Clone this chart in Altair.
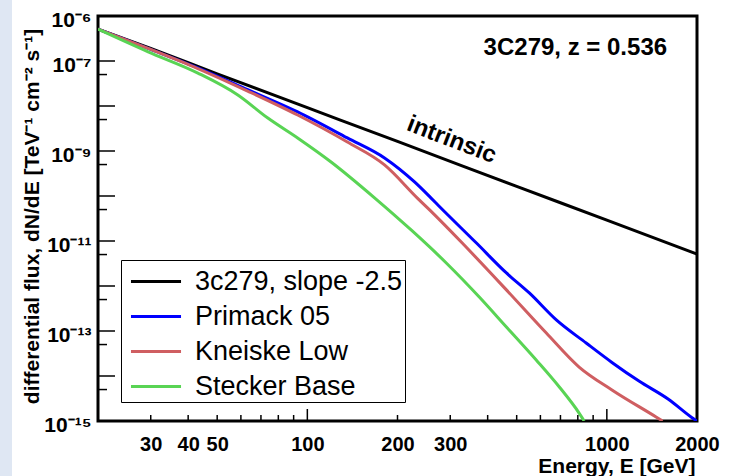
import altair as alt
import pandas as pd

# ---------------- data ----------------
series_names = ["3c279, slope -2.5", "Primack 05", "Kneiske Low", "Stecker Base"]
series_colors = ["#000000", "#0000ff", "#cf5e61", "#59d454"]

intrinsic_E = [20, 30, 50, 100, 200, 500, 1000, 2000]
intrinsic_F = [5.1e-7, 1.9e-7, 5.2e-8, 9.2e-9, 1.63e-9, 1.64e-10, 2.9e-11, 5.1e-12]

primack_E = [20, 29.4, 43.1, 63.2, 92.8, 136, 181, 228, 258, 276, 367, 462, 551,
             678, 853, 1040, 1280, 1610, 1920, 2000]
primack_F = [5.1e-7, 1.9e-7, 7.0e-8, 2.3e-8, 7.4e-9, 1.95e-9, 7.0e-10, 2.05e-10,
             9.2e-11, 5.85e-11, 9.0e-12, 1.95e-12, 7.0e-13, 1.76e-13, 5.4e-14,
             2.0e-14, 7.7e-15, 3.0e-15, 1.2e-15, 1.0e-15]

kneiske_E = [20, 29.4, 43.1, 63.2, 92.8, 136, 181, 233, 256, 329, 462, 628, 808,
             1040, 1460, 1535]
kneiske_F = [5.1e-7, 1.9e-7, 6.8e-8, 2.15e-8, 6.3e-9, 1.58e-9, 4.9e-10, 9.0e-11,
             4.9e-11, 9.0e-12, 8.2e-13, 9.0e-14, 1.58e-14, 4.9e-15, 1.23e-15, 1.0e-15]

stecker_E = [20, 29.4, 43.1, 58.6, 73.8, 92.8, 120, 168, 224, 291, 375, 462, 581,
             694, 808, 840]
stecker_F = [5.1e-7, 1.6e-7, 5.4e-8, 1.76e-8, 5.4e-9, 1.95e-9, 5.7e-10, 9.0e-11,
             1.67e-11, 3.25e-12, 5.7e-13, 1.23e-13, 2.27e-14, 5.7e-15, 1.5e-15, 1.0e-15]

x_label_vals = [30, 40, 50, 100, 200, 300, 1000, 2000]
x_minor_ticks = [30, 40, 50, 60, 70, 80, 90, 200, 300, 400, 500, 600, 700, 800, 900]
x_major_ticks = [100, 1000]

y_label_vals = [1e-6, 1e-7, 1e-9, 1e-11, 1e-13, 1e-15]
y_label_exps = [-6, -7, -9, -11, -13, -15]
y_label_txt = ["10⁻⁶", "10⁻⁷", "10⁻⁹", "10⁻¹¹", "10⁻¹³", "10⁻¹⁵"]
y_major_ticks = [1e-7, 1e-8, 1e-9, 1e-10, 1e-11, 1e-12, 1e-13, 1e-14]
y_minor_ticks = [5e-8, 5e-9, 5e-10, 5e-11, 5e-12, 5e-13, 5e-14, 5e-15]

ann_E = [1589, 303]
ann_F = [1.95e-7, 1.75e-9]
ann_txt = ["3C279, z = 0.536", "intrinsic"]

# ---------------- tables ----------------
rows = []
for name, Es, Fs in [(series_names[0], intrinsic_E, intrinsic_F),
                     (series_names[1], primack_E, primack_F),
                     (series_names[2], kneiske_E, kneiske_F),
                     (series_names[3], stecker_E, stecker_F)]:
    for i, (e, f) in enumerate(zip(Es, Fs)):
        rows.append({"series": name, "E": e, "F": f, "order": i})
df = pd.DataFrame(rows)

FONT = "Liberation Sans"
W, H = 599, 405

xscale = alt.Scale(type="log", domain=[20, 2000], nice=False)
yscale = alt.Scale(type="log", domain=[1e-15, 1e-6], nice=False)

label_expr = " : ".join(
    f"abs(log(datum.value)/LN10 - ({e})) < 0.01 ? '{t}'" for e, t in zip(y_label_exps, y_label_txt)
) + " : ''"

x_axis = alt.Axis(values=x_label_vals, format="d", ticks=False, domain=False, grid=False,
                  labelFont=FONT, labelFontWeight="bold", labelFontSize=20,
                  labelColor="black", labelPadding=13, labelFlush=False,
                  labelOverlap=False,
                  title="Energy, E [GeV]", titleFont=FONT, titleFontWeight="bold",
                  titleFontSize=21, titleColor="black", titleX=597, titleY=45,
                  titleAlign="right", titleBaseline="middle")
y_axis = alt.Axis(values=y_label_vals, labelExpr=label_expr, ticks=False, domain=False,
                  grid=False, labelFont=FONT, labelFontWeight="bold", labelFontSize=21,
                  labelColor="black", labelPadding=7, labelFlush=False,
                  labelOverlap=False, labelBaseline="middle", labelOffset=4,
                  title="differential flux, dN/dE [TeV⁻¹ cm⁻² s⁻¹]",
                  titleFont=FONT, titleFontWeight="bold", titleFontSize=21,
                  titleColor="black", titleAngle=270, titleX=-66, titleY=200,
                  titleAlign="center", titleBaseline="middle")

lines = alt.Chart(df).mark_line(strokeWidth=3, clip=True, interpolate="monotone").encode(
    x=alt.X("E:Q", scale=xscale, axis=x_axis),
    y=alt.Y("F:Q", scale=yscale, axis=y_axis),
    color=alt.Color("series:N", scale=alt.Scale(domain=series_names, range=series_colors),
                    legend=alt.Legend(orient="none", legendX=23, legendY=244, title=None,
                                      symbolType="M-1.43,0H1.43", symbolSize=1225,
                                      symbolStrokeWidth=3, labelFont=FONT, labelFontSize=27,
                                      labelColor="black", rowPadding=3, padding=2.5,
                                      symbolOffset=13.5, labelOffset=20, labelLimit=500,
                                      strokeColor="black", fillColor="white",
                                      cornerRadius=0)),
    order="order:Q",
)

def tick_layer(vals, channel, length):
    d = pd.DataFrame({"v": vals})
    if channel == "y":
        return alt.Chart(d).mark_rule(color="black", strokeWidth=1.5).encode(
            y=alt.Y("v:Q", scale=yscale, axis=y_axis), x=alt.value(0), x2=alt.value(length))
    return alt.Chart(d).mark_rule(color="black", strokeWidth=1.5).encode(
        x=alt.X("v:Q", scale=xscale, axis=x_axis), y=alt.value(H), y2=alt.value(H - length))

ticks = (tick_layer(y_major_ticks, "y", 17) + tick_layer(y_minor_ticks, "y", 9) +
         tick_layer(x_major_ticks, "x", 12) + tick_layer(x_minor_ticks, "x", 6))

ann = pd.DataFrame({"E": ann_E, "F": ann_F, "t": ann_txt})
title_txt = alt.Chart(ann.iloc[[0]]).mark_text(
    font=FONT, fontWeight="bold", fontSize=24, align="right", baseline="middle", color="black"
).encode(x=alt.X("E:Q", scale=xscale, axis=x_axis), y=alt.Y("F:Q", scale=yscale, axis=y_axis),
         text="t:N")
intr_txt = alt.Chart(ann.iloc[[1]]).mark_text(
    font=FONT, fontWeight="bold", fontSize=24, align="center", baseline="middle", color="black",
    angle=21
).encode(x=alt.X("E:Q", scale=xscale, axis=x_axis), y=alt.Y("F:Q", scale=yscale, axis=y_axis),
         text="t:N")

strip = alt.Chart(pd.DataFrame({"a": [0]})).mark_rect(color="#dfe7f3").encode(
    x=alt.value(-98), x2=alt.value(-86), y=alt.value(-16), y2=alt.value(460))

chart = alt.layer(strip, lines, ticks, title_txt, intr_txt).properties(
    width=W, height=H,
    autosize=alt.AutoSizeParams(type="none"),
    padding={"left": 98, "top": 16, "right": 37, "bottom": 55},
    background="white",
).configure_view(stroke="black", strokeWidth=3)

chart.save("out.html", embed_options={"renderer": "svg", "actions": False})
